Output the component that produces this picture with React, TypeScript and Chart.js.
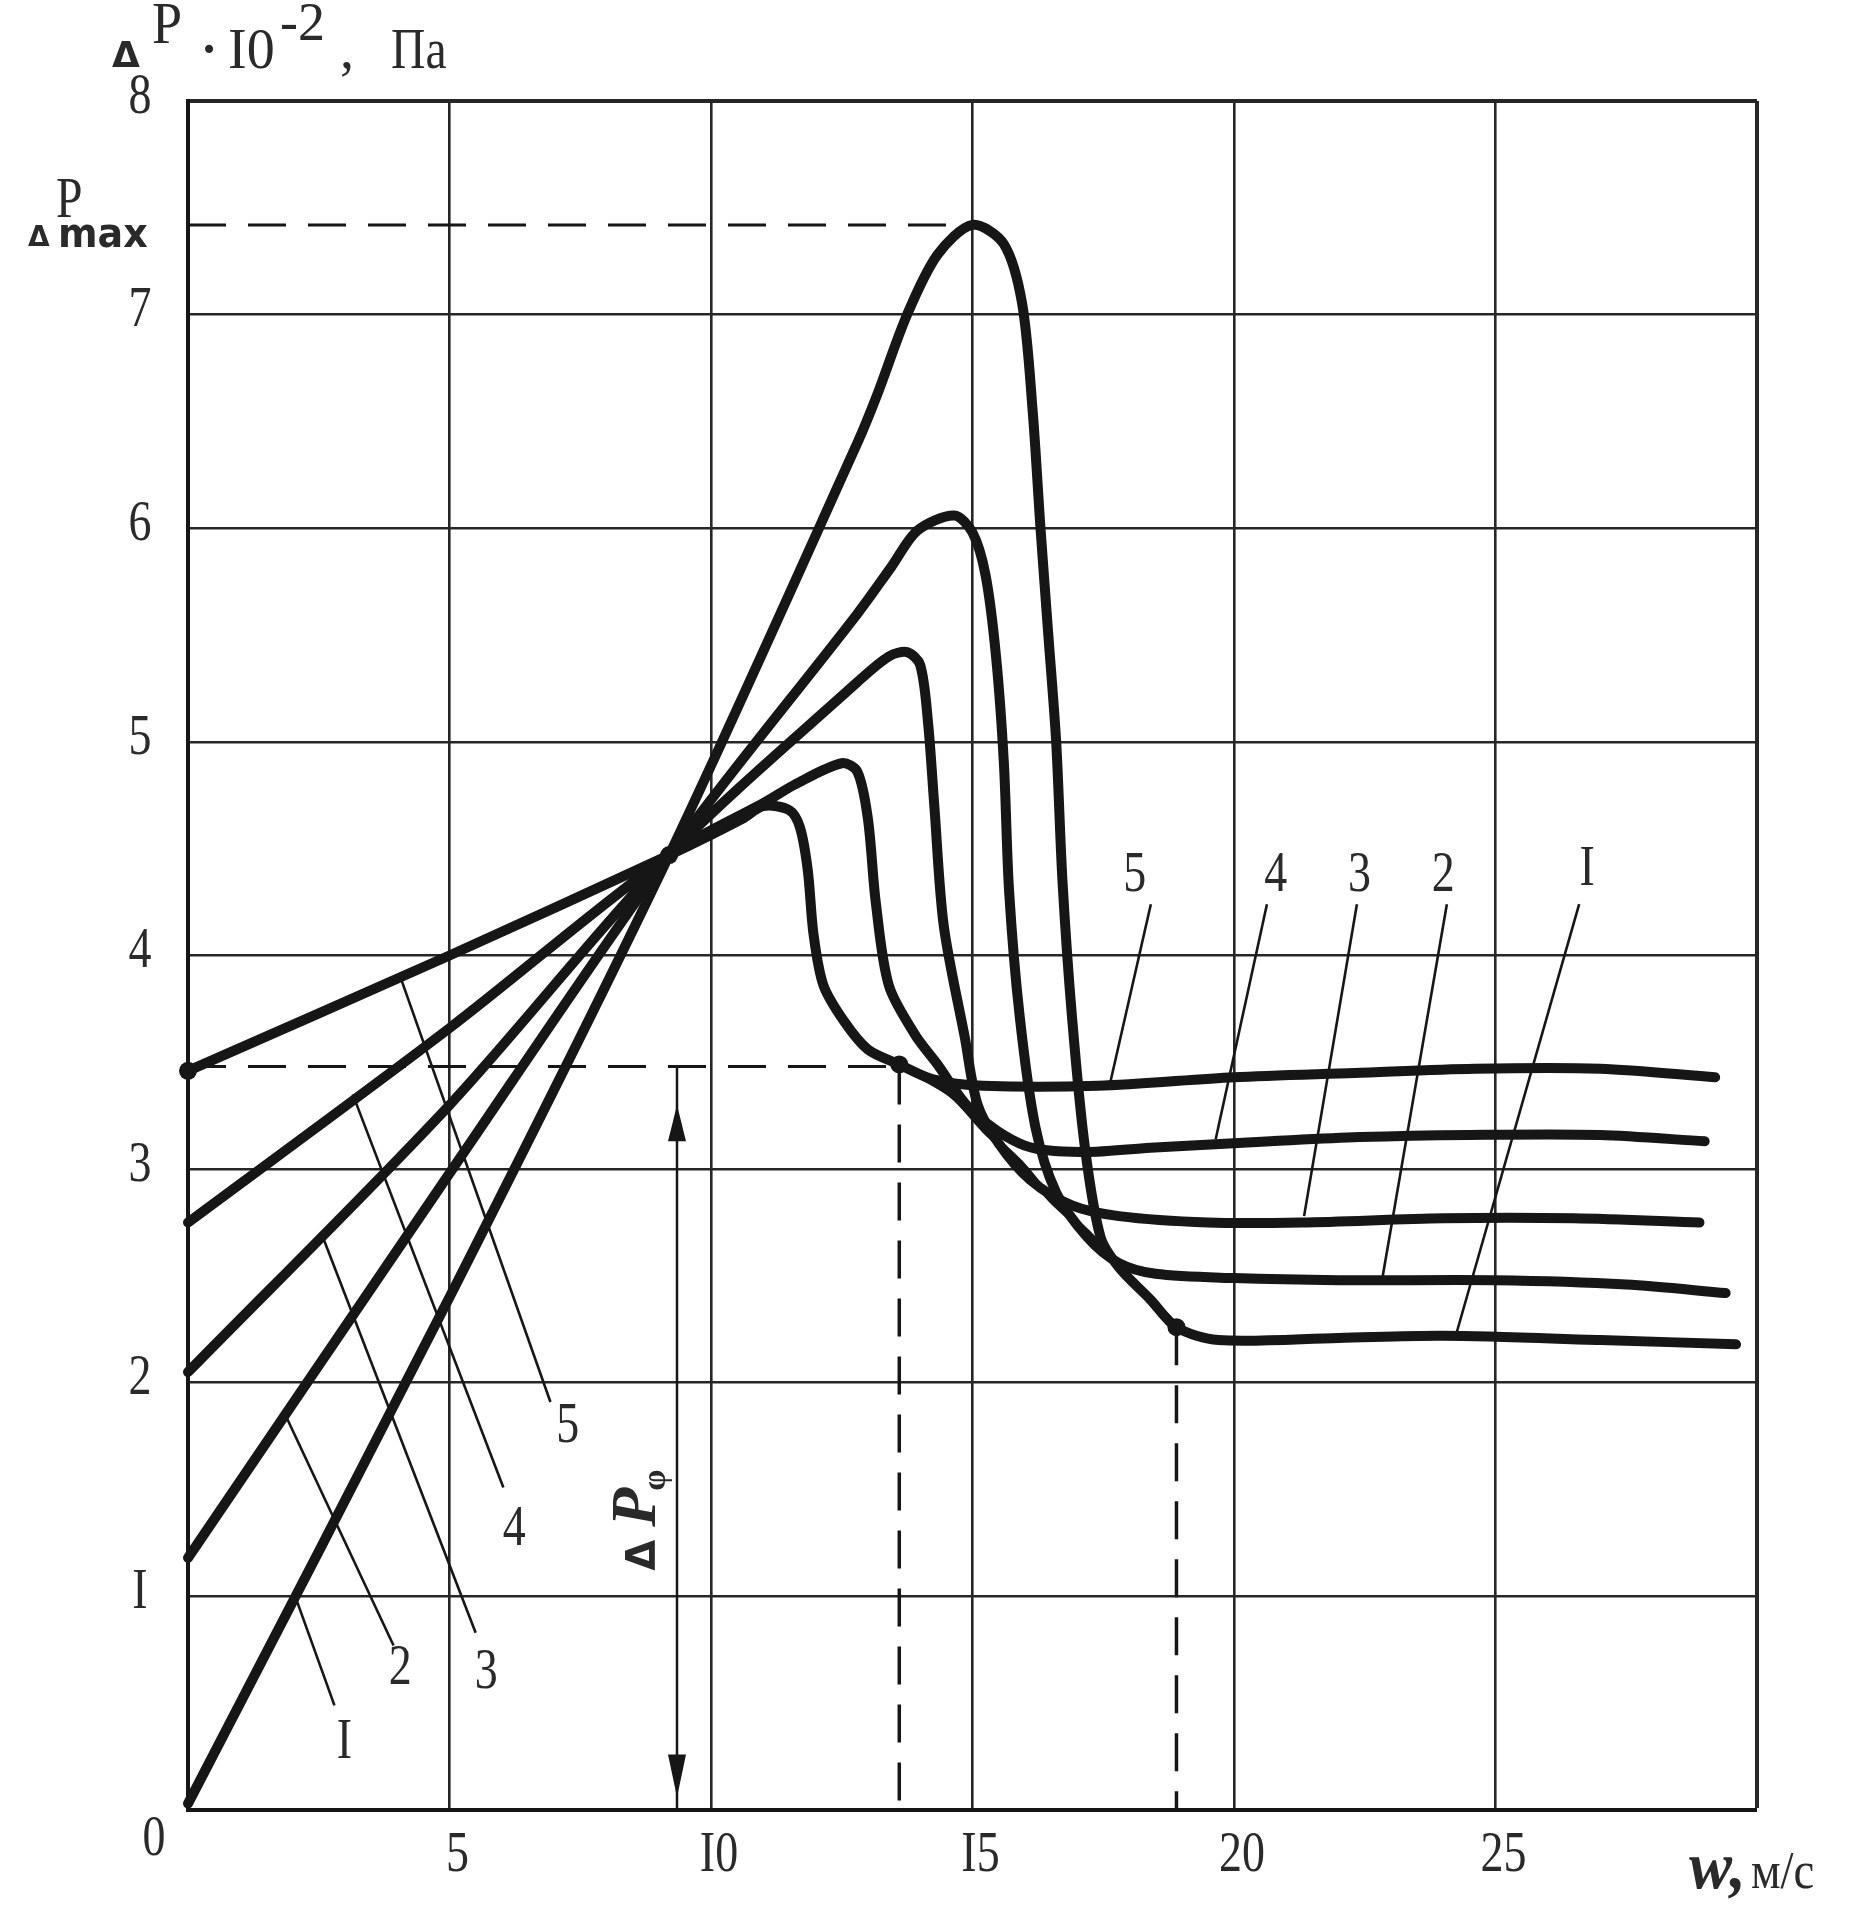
import React, { useEffect, useRef } from "react";
import { Chart, registerables } from "chart.js";

Chart.register(...registerables);

// ---------- values ----------
const curve1X = [0, 5, 9.2, 12.8, 13.17, 13.75, 14.33, 15.0, 15.6, 15.95, 16.15, 16.3, 16.45, 16.6, 16.72, 16.9, 17.15, 17.45, 17.8, 18.4, 18.9, 19.7, 22, 24, 27, 29.6];
const curve1Y = [0.03, 2.4, 4.47, 6.4, 6.62, 7.0, 7.28, 7.42, 7.33, 7.05, 6.55, 6.0, 5.5, 5.0, 4.35, 3.72, 3.1, 2.68, 2.54, 2.39, 2.26, 2.2, 2.21, 2.22, 2.2, 2.18];

const curve2X = [0, 5, 9.2, 12.8, 13.45, 13.95, 14.65, 15.0, 15.25, 15.45, 15.6, 15.7, 15.9, 16.2, 16.6, 17.2, 17.8, 18.5, 20, 22, 25, 27.5, 29.4];
const curve2Y = [1.18, 2.98, 4.47, 5.6, 5.82, 5.99, 6.06, 5.98, 5.78, 5.4, 4.9, 4.3, 3.72, 3.2, 2.89, 2.68, 2.56, 2.51, 2.49, 2.48, 2.48, 2.46, 2.42];

const curve3X = [0, 5, 9.2, 12.8, 13.4, 13.75, 14.0, 14.15, 14.27, 14.45, 14.85, 15.1, 15.5, 16.1, 16.9, 17.8, 19.5, 21.3, 24, 26.5, 28.9];
const curve3Y = [2.05, 3.3, 4.47, 5.28, 5.4, 5.42, 5.36, 5.09, 4.7, 4.14, 3.62, 3.3, 3.12, 2.95, 2.83, 2.78, 2.75, 2.75, 2.77, 2.77, 2.75];

const curve4X = [0, 5, 9.2, 11.05, 11.6, 12.5, 12.8, 13.0, 13.15, 13.4, 13.9, 14.3, 15.0, 16.0, 17.1, 18.4, 20.7, 22.4, 24.5, 27, 29.0];
const curve4Y = [2.75, 3.66, 4.47, 4.72, 4.8, 4.9, 4.86, 4.64, 4.25, 3.86, 3.63, 3.5, 3.27, 3.11, 3.08, 3.1, 3.13, 3.15, 3.16, 3.16, 3.13];

const curve5X = [0, 5, 9.2, 10.6, 11.0, 11.5, 11.7, 11.85, 11.96, 12.15, 12.55, 13.0, 13.6, 14.25, 15.2, 17.4, 20, 22.3, 24.6, 27, 29.2];
const curve5Y = [3.46, 4.0, 4.47, 4.64, 4.7, 4.68, 4.6, 4.4, 4.1, 3.86, 3.69, 3.56, 3.49, 3.42, 3.39, 3.39, 3.43, 3.45, 3.47, 3.47, 3.43];

// line of transition points (from curve 5's point to curve I's point)
const envelopeX = [13.6, 14.6, 15.25, 15.9, 16.5, 17.2, 17.8, 18.4, 18.9];
const envelopeY = [3.49, 3.35, 3.18, 3.03, 2.86, 2.7, 2.54, 2.39, 2.26];

// marked points
const dotsX = [0, 9.2, 13.6, 18.9];
const dotsY = [3.46, 4.47, 3.49, 2.26];

// reference levels
const P_MAX = 7.42;
const P_MAX_X = 15.0;
const P_PHI = 3.48;
const P_PHI_X = 13.6;
const P_END_X = 18.9;
const P_END_Y = 2.26;
const ARROW_X = 9.35;

// curve names
const curveNames = ["I", "2", "3", "4", "5"];

// leader lines (left group): start on curve -> end near label
const leftLeadX1 = [2.05, 1.86, 2.55, 3.15, 4.06];
const leftLeadY1 = [1.0, 1.85, 2.7, 3.35, 3.9];
const leftLeadX2 = [2.8, 3.93, 5.5, 6.03, 6.93];
const leftLeadY2 = [0.49, 0.77, 0.83, 1.51, 1.91];
const leftLabelX = [2.99, 4.06, 5.7, 6.24, 7.26];
const leftLabelY = [0.31, 0.66, 0.64, 1.31, 1.79];

// leader lines (right group)
const rightLeadX1 = [26.6, 24.07, 22.35, 20.63, 18.41];
const rightLeadY1 = [4.24, 4.24, 4.24, 4.24, 4.24];
const rightLeadX2 = [24.24, 22.83, 21.34, 19.65, 17.62];
const rightLeadY2 = [2.22, 2.48, 2.78, 3.14, 3.39];
const rightLabelX = [26.75, 24.0, 22.4, 20.8, 18.1];
const rightLabelY = [4.4, 4.37, 4.37, 4.37, 4.37];

// ticks
const xTickValues = [5, 10, 15, 20, 25];
const xTickLabels = ["5", "I0", "I5", "20", "25"];
const yTickValues = [1, 2, 3, 4, 5, 6, 7, 8];
const yTickLabels = ["I", "2", "3", "4", "5", "6", "7", "8"];

// ---------- styling ----------
const INK = "#161616";
const GRID = "#262626";
const TXT = "#2a2a2a";
const SERIF = '"Liberation Serif", "DejaVu Serif", serif';
const SANS = '"DejaVu Sans", "Liberation Sans", sans-serif';

const toPts = (xs: number[], ys: number[]) => xs.map((x, i) => ({ x, y: ys[i] }));

function drawText(
  ctx: CanvasRenderingContext2D,
  s: string,
  x: number,
  y: number,
  font: string,
  align: CanvasTextAlign = "center",
  baseline: CanvasTextBaseline = "middle",
  sx = 1,
  rot = 0,
  color = TXT
) {
  ctx.save();
  ctx.translate(x, y);
  if (rot) ctx.rotate(rot);
  ctx.scale(sx, 1);
  ctx.font = font;
  ctx.fillStyle = color;
  ctx.textAlign = align;
  ctx.textBaseline = baseline;
  ctx.fillText(s, 0, 0);
  ctx.restore();
}

const annotate = {
  id: "annotate",
  beforeDraw(chart: any) {
    const ctx = chart.ctx as CanvasRenderingContext2D;
    ctx.save();
    ctx.fillStyle = "#ffffff";
    ctx.fillRect(0, 0, chart.width, chart.height);
    ctx.restore();
  },
  afterDraw(chart: any) {
    const ctx = chart.ctx as CanvasRenderingContext2D;
    const ca = chart.chartArea;
    const xs = chart.scales.x;
    const ys = chart.scales.y;
    const px = (v: number) => xs.getPixelForValue(v);
    const py = (v: number) => ys.getPixelForValue(v);
    const tickFont = `56px ${SERIF}`;
    const SX = 0.82;

    // arrowheads of the ΔPφ arrow
    const ax = px(ARROW_X);
    ctx.save();
    ctx.fillStyle = INK;
    const tri = (tipY: number, baseY: number, half: number) => {
      ctx.beginPath();
      ctx.moveTo(ax, tipY);
      ctx.lineTo(ax - half, baseY);
      ctx.lineTo(ax + half, baseY);
      ctx.closePath();
      ctx.fill();
    };
    tri(py(3.3), py(3.13), 9);
    tri(py(0.06), py(0.26), 9);
    ctx.restore();

    // y tick labels
    yTickValues.forEach((v, i) => {
      drawText(ctx, yTickLabels[i], ca.left - 48, py(v) - 3, tickFont, "center", "middle", SX);
    });
    drawText(ctx, "0", ca.left - 34, ca.bottom + 30, tickFont, "center", "middle", SX);

    // x tick labels
    xTickValues.forEach((v, i) => {
      drawText(ctx, xTickLabels[i], px(v) + 8, ca.bottom + 46, tickFont, "center", "middle", SX);
    });

    // x axis title
    drawText(ctx, "w,", ca.right - 68, ca.bottom + 78, `italic bold 68px ${SERIF}`, "left", "alphabetic", 0.95);
    drawText(ctx, "м/с", ca.right - 6, ca.bottom + 78, `52px ${SERIF}`, "left", "alphabetic", 0.9);

    // y axis title  ΔP·I0^-2, Па
    drawText(ctx, "Δ", ca.left - 76, ca.top - 34, `bold 36px ${SANS}`, "left", "alphabetic");
    drawText(ctx, "P", ca.left - 36, ca.top - 58, `60px ${SERIF}`, "left", "alphabetic", 0.9);
    drawText(ctx, "·", ca.left + 21, ca.top - 48, `bold 50px ${SERIF}`, "center", "middle");
    drawText(ctx, "I0", ca.left + 40, ca.top - 33, `56px ${SERIF}`, "left", "alphabetic", 1);
    drawText(ctx, "-2", ca.left + 92, ca.top - 61, `54px ${SERIF}`, "left", "alphabetic", 1);
    drawText(ctx, ",", ca.left + 152, ca.top - 33, `56px ${SERIF}`, "left", "alphabetic", 1);
    drawText(ctx, "Па", ca.left + 203, ca.top - 33, `56px ${SERIF}`, "left", "alphabetic", 0.85);

    // Δp max label
    const ym = py(P_MAX);
    drawText(ctx, "Δ", 28, ym + 21, `bold 28px ${SANS}`, "left", "alphabetic");
    drawText(ctx, "P", 56, ym - 8, `58px ${SERIF}`, "left", "alphabetic", SX);
    drawText(ctx, "max", 58, ym + 22, `bold 40px ${SANS}`, "left", "alphabetic", 0.95);

    // rotated ΔPφ label next to the arrow
    ctx.save();
    ctx.translate(ax - 22, py(1.12));
    ctx.rotate(-Math.PI / 2);
    drawText(ctx, "Δ", 0, 0, `bold 40px ${SANS}`, "left", "alphabetic");
    drawText(ctx, "P", 44, 0, `italic bold 64px ${SERIF}`, "left", "alphabetic");
    drawText(ctx, "φ", 80, 10, `bold 34px ${SERIF}`, "left", "alphabetic");
    ctx.restore();

    // curve labels
    curveNames.forEach((n, i) => {
      drawText(ctx, n, px(leftLabelX[i]), py(leftLabelY[i]), tickFont, "center", "middle", SX);
      drawText(ctx, n, px(rightLabelX[i]), py(rightLabelY[i]), tickFont, "center", "middle", SX);
    });
  },
};

function buildDatasets() {
  const ds: any[] = [];
  const curve = (xs: number[], ys: number[]) => ({
    data: toPts(xs, ys),
    showLine: true,
    borderColor: INK,
    borderWidth: 10,
    pointRadius: 0,
    tension: 0.3,
    borderCapStyle: "round",
    borderJoinStyle: "round",
    clip: false,
  });
  const seg = (x1: number, y1: number, x2: number, y2: number, w: number, dash: number[] = []) => ({
    data: [
      { x: x1, y: y1 },
      { x: x2, y: y2 },
    ],
    showLine: true,
    borderColor: INK,
    borderWidth: w,
    borderDash: dash,
    pointRadius: 0,
    tension: 0,
    clip: false,
  });

  ds.push(curve(curve1X, curve1Y));
  ds.push(curve(curve2X, curve2Y));
  ds.push(curve(curve3X, curve3Y));
  ds.push(curve(curve4X, curve4Y));
  ds.push(curve(curve5X, curve5Y));
  ds.push({ ...curve(envelopeX, envelopeY), borderWidth: 7 });

  // dashed reference lines
  ds.push(seg(0, P_MAX, P_MAX_X, P_MAX, 3, [38, 22]));
  ds.push(seg(0, P_PHI, P_PHI_X, P_PHI, 3, [38, 22]));
  ds.push(seg(P_PHI_X, P_PHI, P_PHI_X, 0, 3.5, [38, 20]));
  ds.push(seg(P_END_X, P_END_Y, P_END_X, 0, 3.5, [38, 20]));
  // arrow shaft
  ds.push(seg(ARROW_X, P_PHI, ARROW_X, 0, 2.5));

  // leaders
  curveNames.forEach((_, i) => {
    ds.push(seg(leftLeadX1[i], leftLeadY1[i], leftLeadX2[i], leftLeadY2[i], 2.6));
    ds.push(seg(rightLeadX1[i], rightLeadY1[i], rightLeadX2[i], rightLeadY2[i], 2.6));
  });

  // marked points
  ds.push({
    data: toPts(dotsX, dotsY),
    showLine: false,
    pointRadius: 9,
    pointBackgroundColor: INK,
    pointBorderColor: INK,
    pointBorderWidth: 0,
    clip: false,
  });
  return ds;
}

export default function App() {
  const ref = useRef<HTMLCanvasElement | null>(null);
  useEffect(() => {
    if (!ref.current) return;
    const gridWidth = (ctx: any) => {
      const v = ctx.tick ? ctx.tick.value : 0;
      return v === 0 ? 0 : 2.6;
    };
    const chart = new Chart(ref.current, {
      type: "scatter",
      data: { datasets: buildDatasets() },
      options: {
        animation: false,
        responsive: false,
        devicePixelRatio: 1,
        events: [],
        layout: { padding: { left: 188, top: 101, right: 114, bottom: 113 } },
        plugins: { legend: { display: false }, tooltip: { enabled: false } },
        scales: {
          x: {
            type: "linear",
            min: 0,
            max: 30,
            ticks: { display: false, stepSize: 5 },
            grid: {
              color: GRID,
              lineWidth: (c: any) => (c.tick && c.tick.value === 30 ? 4 : gridWidth(c)),
              drawTicks: false,
            },
            border: { display: true, color: INK, width: 4 },
            afterFit: (a: any) => {
              a.height = 0;
            },
          },
          y: {
            type: "linear",
            min: 0,
            max: 8,
            ticks: { display: false, stepSize: 1 },
            grid: {
              color: GRID,
              lineWidth: (c: any) => (c.tick && c.tick.value === 8 ? 4 : gridWidth(c)),
              drawTicks: false,
            },
            border: { display: true, color: INK, width: 4 },
            afterFit: (a: any) => {
              a.width = 0;
            },
          },
        },
      } as any,
      plugins: [annotate],
    });
    return () => chart.destroy();
  }, []);

  return (
    <div style={{ position: "fixed", left: 0, top: 0, width: 1871, height: 1923, background: "#fff" }}>
      <canvas ref={ref} width={1871} height={1923} style={{ display: "block", width: 1871, height: 1923 }} />
    </div>
  );
}
